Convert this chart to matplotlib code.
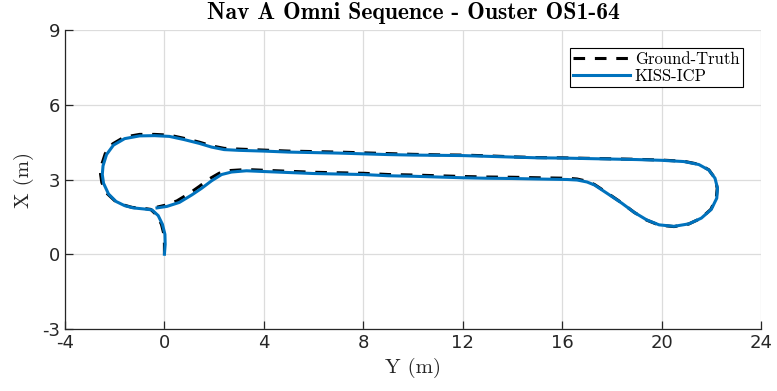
import matplotlib
matplotlib.use("Agg")
import matplotlib.pyplot as plt

# Ground truth trajectory (horizontal axis = Y, vertical axis = X), metres
y_gt = [0.0, 0.0, -0.02, -0.12, -0.3, -0.55, -0.9, -1.3, -1.65, -2.0, -2.32, -2.52, -2.57, -2.53,
        -2.38, -2.08, -1.62, -1.0, -0.4, 0.2, 0.8, 1.4, 1.9, 2.4, 3.0, 4.0, 5.0, 6.0, 7.0, 8.0,
        9.0, 10.0, 11.0, 12.0, 13.0, 14.0, 15.0, 16.0, 17.0, 18.0, 19.0, 20.0, 20.9, 21.5, 21.9,
        22.15, 22.24, 22.2, 21.98, 21.58, 21.08, 20.5, 19.9, 19.4, 18.9, 18.4, 17.8, 17.3, 17.0,
        16.6, 16.2, 15.0, 14.0, 13.0, 12.0, 11.0, 10.0, 9.0, 8.0, 7.0, 6.0, 5.0, 4.0, 3.3, 2.65, 2.2,
        1.8, 1.4, 1.0, 0.5, 0.0, -0.3]
x_gt = [0.0, 0.4, 0.8, 1.2, 1.56, 1.8, 1.85, 1.88, 1.98, 2.15, 2.45, 2.88, 3.22, 3.58,
        4.04, 4.43, 4.7, 4.81, 4.81, 4.78, 4.65, 4.5, 4.35, 4.25, 4.22, 4.18, 4.14, 4.12, 4.1, 4.07,
        4.04, 4.01, 3.99, 3.98, 3.95, 3.91, 3.88, 3.87, 3.85, 3.83, 3.81, 3.78, 3.73, 3.61, 3.39,
        3.05, 2.65, 2.25, 1.8, 1.44, 1.21, 1.11, 1.17, 1.37, 1.68, 2.06, 2.47, 2.8, 2.93,
        3.02, 3.05, 3.07, 3.09, 3.1, 3.12, 3.15, 3.18, 3.2, 3.25, 3.27, 3.29, 3.33, 3.37, 3.4, 3.36, 3.25,
        3.02, 2.72, 2.44, 2.14, 1.96, 1.89]

# KISS-ICP estimated trajectory
y_kiss = [0.0, 0.03, 0.02, -0.08, -0.25, -0.5, -0.85, -1.25, -1.6, -1.95, -2.25, -2.45, -2.5, -2.47,
          -2.33, -2.05, -1.6, -1.0, -0.4, 0.2, 0.8, 1.4, 1.9, 2.4, 3.0, 4.0, 5.0, 6.0, 7.0, 8.0,
          9.0, 10.0, 11.0, 12.0, 13.0, 14.0, 15.0, 16.0, 17.0, 18.0, 19.0, 20.0, 20.9, 21.5, 21.9,
          22.15, 22.25, 22.22, 22.0, 21.6, 21.1, 20.5, 19.9, 19.4, 18.9, 18.4, 17.8, 17.3, 17.0,
          16.6, 16.2, 15.0, 14.0, 13.0, 12.0, 11.0, 10.0, 9.0, 8.0, 7.0, 6.0, 5.0, 4.0, 3.3, 2.7, 2.3,
          1.9, 1.5, 1.1, 0.6, 0.1, -0.3]
x_kiss = [0.0, 0.4, 0.8, 1.2, 1.55, 1.78, 1.82, 1.86, 1.95, 2.12, 2.42, 2.85, 3.2, 3.55,
          4.0, 4.38, 4.64, 4.75, 4.76, 4.73, 4.6, 4.45, 4.3, 4.2, 4.17, 4.14, 4.1, 4.08, 4.06, 4.03,
          4.0, 3.98, 3.97, 3.96, 3.93, 3.9, 3.87, 3.86, 3.84, 3.82, 3.8, 3.77, 3.72, 3.6, 3.38,
          3.05, 2.65, 2.25, 1.8, 1.45, 1.22, 1.12, 1.18, 1.38, 1.68, 2.05, 2.45, 2.78, 2.9,
          2.98, 3.0, 3.02, 3.04, 3.05, 3.07, 3.1, 3.13, 3.15, 3.2, 3.22, 3.24, 3.28, 3.32, 3.35, 3.3, 3.2,
          2.95, 2.65, 2.38, 2.08, 1.92, 1.86]

x_ticks = [-4, 0, 4, 8, 12, 16, 20, 24]
y_ticks = [-3, 0, 3, 6, 9]
x_ticklabels = ["-4", "0", "4", "8", "12", "16", "20", "24"]
y_ticklabels = ["-3", "0", "3", "6", "9"]

fig = plt.figure(figsize=(7.77, 3.91), dpi=100)
ax = fig.add_axes([65 / 777, 1 - 329 / 391, (761 - 65) / 777, (329 - 30) / 391])

ax.plot(y_gt, x_gt, color="black", lw=2.2, linestyle=(0, (3.8, 3.2)), label="Ground-Truth", zorder=3)
ax.plot(y_kiss, x_kiss, color="#0072BD", lw=2.2, label="KISS-ICP", zorder=4)

ax.set_xlim(-4, 24)
ax.set_ylim(-3, 9)
ax.set_xticks(x_ticks)
ax.set_xticklabels(x_ticklabels)
ax.set_yticks(y_ticks)
ax.set_yticklabels(y_ticklabels)
ax.grid(True, color="#dcdcdc", lw=0.9)
ax.set_axisbelow(True)
for s in ["top", "right"]:
    ax.spines[s].set_visible(False)
for s in ["left", "bottom"]:
    ax.spines[s].set_color("#262626")
    ax.spines[s].set_linewidth(0.9)
ax.tick_params(direction="in", length=6, width=0.9, color="#262626",
               labelsize=13, labelcolor="#262626", top=False, right=False)

ax.set_xlabel("Y (m)", family="cmr10", fontsize=15, color="#262626", labelpad=4)
ax.set_ylabel("X (m)", family="cmr10", fontsize=15, color="#262626", labelpad=6)
ax.set_title("Nav A Omni Sequence - Ouster OS1-64", family="cmb10", fontsize=17, pad=8)

leg = ax.legend(loc="upper right", prop={"family": "cmr10", "size": 12},
                frameon=True, fancybox=False, edgecolor="black", framealpha=1,
                borderpad=0.2, labelspacing=0.1, handlelength=3.4, handletextpad=0.3,
                borderaxespad=1.1)
leg.get_frame().set_linewidth(0.8)

fig.savefig("out.png", dpi=100)
